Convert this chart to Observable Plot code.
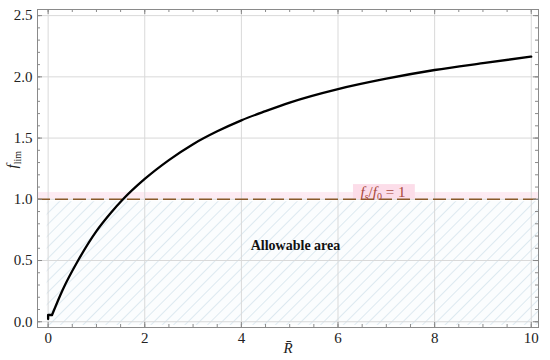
<!DOCTYPE html>
<html><head><meta charset="utf-8">
<script src="https://cdn.jsdelivr.net/npm/d3@7"></script>
<script src="https://cdn.jsdelivr.net/npm/@observablehq/plot@0.6"></script>
<style>
body{margin:0;background:#fff;}
#chart svg, #chart svg text {font-family: "Liberation Serif", "Times New Roman", "DejaVu Serif", serif !important;}
</style>
</head><body><div id="chart"></div>
<script>
// curve data
const Rbar = [0.08, 0.3, 0.62, 1.0, 1.3, 1.55, 2.0, 2.5, 3.0, 3.5, 4.0, 4.5, 5.0, 6.0, 7.0, 8.0, 9.0, 10.0];
const fLim = [0.055, 0.26, 0.50, 0.74, 0.89, 1.00, 1.166, 1.32, 1.45, 1.555, 1.645, 1.72, 1.79, 1.90, 1.985, 2.056, 2.112, 2.165];
// small step at the start of the curve
const stepR = [0, 0, 0.08];
const stepF = [0.022, 0.055, 0.055];
// ticks
const xTicks = [0, 2, 4, 6, 8, 10];
const yTicks = [0, 0.5, 1.0, 1.5, 2.0, 2.5];
const yTickLabels = ["0.0", "0.5", "1.0", "1.5", "2.0", "2.5"];
const xMinor = d3.range(0, 10.01, 0.5);
const yMinor = d3.range(0, 2.501, 0.1);
const limitValue = [1];
const areaLabel = ["Allowable area"];

const W = 550, H = 360, mt = 9, mb = 33, ml = 37, mr = 12;
const fw = W - ml - mr, fh = H - mt - mb;
const curve = Rbar.map((x, i) => ({x, y: fLim[i]}));
const step = stepR.map((x, i) => ({x, y: stepF[i]}));
const frameC = "#8a8a8a";
const serif = '"Liberation Serif", "Times New Roman", "DejaVu Serif", serif';

const svg = Plot.plot({
  width: W, height: H, marginTop: mt, marginBottom: mb, marginLeft: ml, marginRight: mr,
  style: {fontSize: "15px", background: "#fff", color: "#222", fontFamily: serif},
  x: {domain: [-0.22, 10.15]},
  y: {domain: [-0.047, 2.55]},
  marks: [
    Plot.rect([0], {x1: -0.02, x2: 10.15, y1: -0.03, y2: 0.98, fill: "#fbfdfe"}),
    Plot.rect([0], {x1: -0.02, x2: 10.15, y1: -0.03, y2: 0.98, fill: "url(#hatch)"}),
    Plot.rect([0], {x1: -0.22, x2: 10.15, y1: 1.0, y2: 1.055, fill: "#fdebf3"}),
    Plot.gridX(xTicks, {stroke: "#d9d9d9", strokeOpacity: 1}),
    Plot.gridY(yTicks, {stroke: "#d9d9d9", strokeOpacity: 1}),
    Plot.rect([0], {x1: 6.32, x2: 7.6, y1: 1.0, y2: 1.12, fill: "#fcdde9"}),
    Plot.ruleY(limitValue, {stroke: "#8b5a2b", strokeWidth: 1.6, strokeDasharray: "13,5"}),
    Plot.text(["fs/f0 = 1"], {x: 6.93, y: 1.06, fill: "#a8473a", fontSize: 15, fontFamily: serif}),
    Plot.text(areaLabel, {x: 5.12, y: 0.62, fontWeight: "bold", fontSize: 14, fill: "#111", fontFamily: serif}),
    Plot.line(step, {x: "x", y: "y", stroke: "#000", strokeWidth: 2.3}),
    Plot.line(curve, {x: "x", y: "y", stroke: "#000", strokeWidth: 2.3, curve: "monotone-x"}),
    Plot.frame({stroke: frameC}),
    // inward ticks on all four sides
    Plot.ruleX(xTicks, {stroke: frameC, insetTop: fh - 5}),
    Plot.ruleX(xMinor, {stroke: frameC, insetTop: fh - 3}),
    Plot.ruleX(xTicks, {stroke: frameC, insetBottom: fh - 5}),
    Plot.ruleX(xMinor, {stroke: frameC, insetBottom: fh - 3}),
    Plot.ruleY(yTicks, {stroke: frameC, insetRight: fw - 5}),
    Plot.ruleY(yMinor, {stroke: frameC, insetRight: fw - 3}),
    Plot.ruleY(yTicks, {stroke: frameC, insetLeft: fw - 5}),
    Plot.ruleY(yMinor, {stroke: frameC, insetLeft: fw - 3}),
    Plot.axisX(xTicks, {tickSize: 0, tickPadding: 5, label: null, fontSize: 15, fontFamily: serif, tickFormat: d => String(d)}),
    Plot.axisY(yTicks, {tickSize: 0, tickPadding: 5, label: null, fontSize: 15, fontFamily: serif, tickFormat: (d, i) => yTickLabels[i]}),
    Plot.text(["R\u0304"], {frameAnchor: "bottom", dy: 25, fontStyle: "italic", fontSize: 15, fontFamily: serif}),
    Plot.text(["flim"], {frameAnchor: "left", dx: -25, rotate: -90, fontSize: 15, fontFamily: serif})
  ]
});

const s = d3.select(svg);
s.insert("defs", ":first-child").html(
  '<pattern id="hatch" patternUnits="userSpaceOnUse" width="8" height="8" patternTransform="rotate(45)">' +
  '<line x1="0" y1="0" x2="0" y2="8" stroke="#dde9f0" stroke-width="2"/></pattern>');
s.selectAll("text").style("font-family", serif);

function byText(t) { return s.selectAll("text").filter(function() { return this.textContent === t; }); }

const yl = byText("flim");
yl.text(null);
yl.append("tspan").attr("font-style", "italic").text("f");
yl.append("tspan").attr("font-size", 10).attr("dy", 4).text("lim");

const ll = byText("fs/f0 = 1");
ll.text(null);
ll.append("tspan").attr("font-style", "italic").text("f");
ll.append("tspan").attr("font-size", 10).attr("dy", 3).text("s");
ll.append("tspan").attr("dy", -3).text("/");
ll.append("tspan").attr("font-style", "italic").text("f");
ll.append("tspan").attr("font-size", 10).attr("dy", 3).text("0");
ll.append("tspan").attr("dy", -3).text(" = 1");

document.getElementById("chart").append(svg);
</script>
</body></html>
